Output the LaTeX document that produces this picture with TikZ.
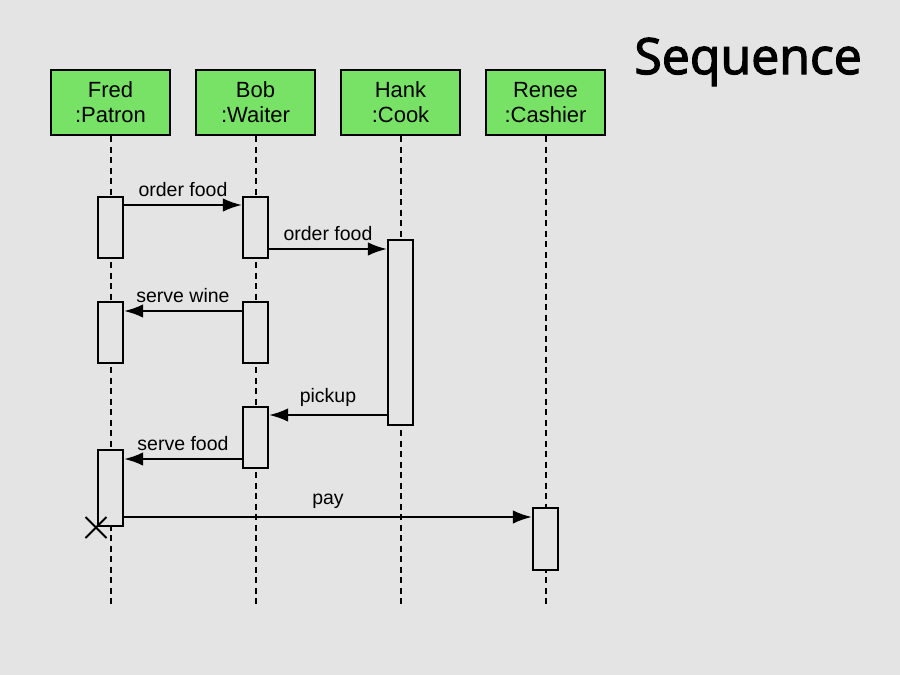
\documentclass[tikz,border=0pt]{standalone}
\usepackage{fontspec}
\setmainfont{Liberation Sans}
\newfontfamily\titlefont[FakeBold=2.5]{Open Sans}
\usetikzlibrary{arrows.meta}
\definecolor{bg}{HTML}{E4E4E4}
\definecolor{actor}{HTML}{77E265}
\begin{document}
\begin{tikzpicture}[x=1pt,y=-1pt,
  actorbox/.style={draw=black,fill=actor,line width=2.2pt,minimum width=119pt,minimum height=65pt,inner sep=0pt,align=center,font=\fontsize{22}{25}\selectfont},
  lifeline/.style={line width=2pt,dash pattern=on 6pt off 4.5pt},
  actbox/.style={draw=black,fill=bg,line width=2.2pt,minimum width=25pt,inner sep=0pt},
  msg/.style={-{Latex[length=19pt,width=13.5pt]},line width=2.2pt},
  lbl/.style={font=\fontsize{19.5}{22}\selectfont,inner sep=0pt}]
\fill[bg] (0,0) rectangle (900,675);
\useasboundingbox (0,0) rectangle (900,675);
\node[font=\titlefont\fontsize{50}{58}\selectfont,anchor=base east,inner sep=0pt] (title) at (862,74) {Sequence};
% actors
\node[actorbox] (fred) at (110.5,102.5) {Fred\\:Patron};
\node[actorbox] (bob) at (255.5,102.5) {Bob\\:Waiter};
\node[actorbox] (hank) at (400.5,102.5) {Hank\\:Cook};
\node[actorbox] (renee) at (545.5,102.5) {Renee\\:Cashier};
% lifelines
\coordinate (fe) at (110.5,605);
\coordinate (be) at (255.5,605);
\coordinate (he) at (400.5,605);
\coordinate (re) at (545.5,605);
\draw[lifeline] (fred.south) -- (fe);
\draw[lifeline] (bob.south) -- (be);
\draw[lifeline] (hank.south) -- (he);
\draw[lifeline] (renee.south) -- (re);
% activation boxes
\node[actbox,minimum height=61pt] (f1) at (110.5,227.5) {};
\node[actbox,minimum height=61pt] (f2) at (110.5,332.5) {};
\node[actbox,minimum height=76pt] (f3) at (110.5,488) {};
\node[actbox,minimum height=61pt] (b1) at (255.5,227.5) {};
\node[actbox,minimum height=61pt] (b2) at (255.5,332.5) {};
\node[actbox,minimum height=61pt] (b3) at (255.5,437.5) {};
\node[actbox,minimum height=185pt] (h1) at (400.5,332.5) {};
\node[actbox,minimum height=62pt] (r1) at (545.5,539) {};
% messages
\draw[msg] (f1.east |- 0,205) -- (b1.west |- 0,205) node[lbl,midway,above=7pt] (m1) {order food};
\draw[msg] (b1.east |- 0,249) -- (h1.west |- 0,249) node[lbl,midway,above=7pt] (m2) {order food};
\draw[msg] (b2.west |- 0,311) -- (f2.east |- 0,311) node[lbl,midway,above=7pt] (m3) {serve wine};
\draw[msg] (h1.west |- 0,415) -- (b3.east |- 0,415) node[lbl,midway,above=7pt] (m4) {pickup};
\draw[msg] (b3.west |- 0,459) -- (f3.east |- 0,459) node[lbl,midway,above=7pt] (m5) {serve food};
\draw[msg] (f3.east |- 0,517) -- (r1.west |- 0,517) node[lbl,midway,above=7pt] (m6) {pay};
% destruction mark
\coordinate (x0) at (96,527.5);
\draw[line width=2pt] ([shift={(-10.5,-10.5)}]x0) -- ([shift={(10.5,10.5)}]x0);
\draw[line width=2pt] ([shift={(-10.5,10.5)}]x0) -- ([shift={(10.5,-10.5)}]x0);
\end{tikzpicture}
\end{document}
